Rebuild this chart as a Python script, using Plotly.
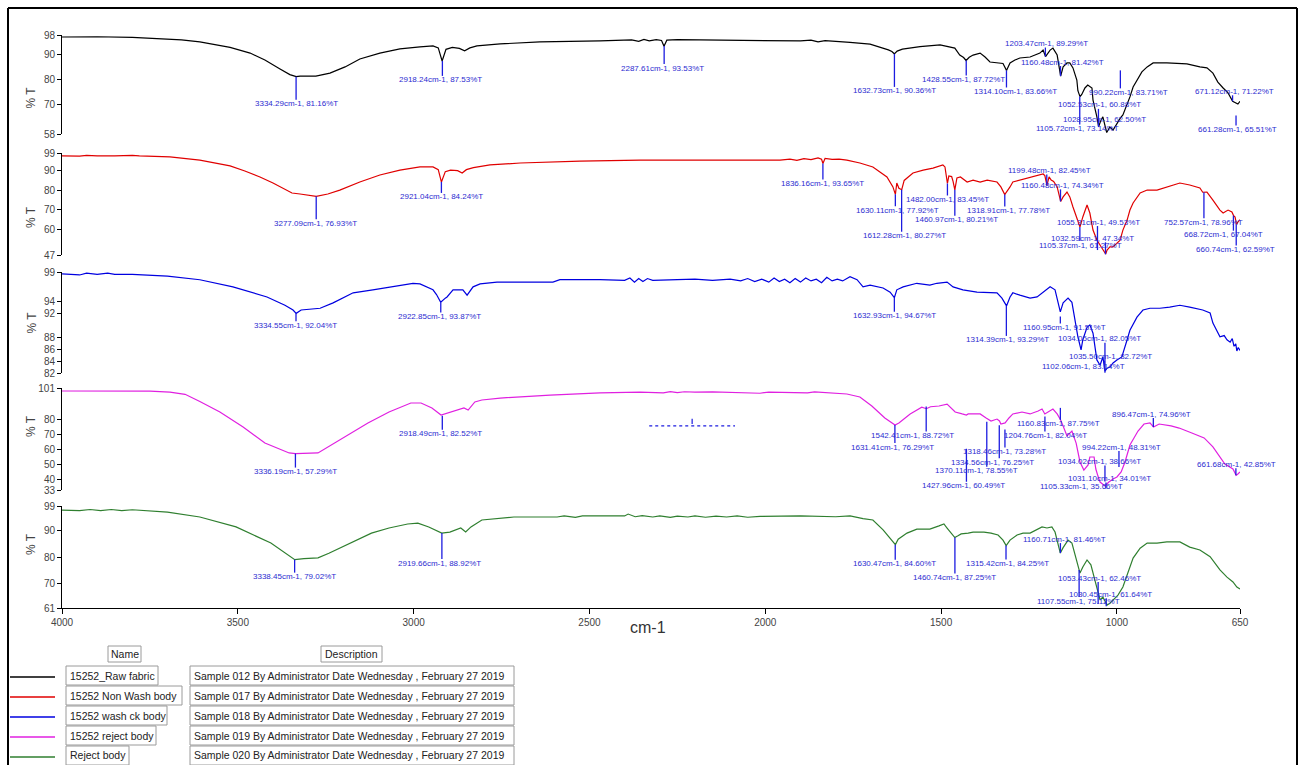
import plotly.graph_objects as go

# ---------------- data ----------------
names = ["15252_Raw fabric", "15252 Non Wash body", "15252 wash ck body",
         "15252 reject body", "Reject body"]
descriptions = [
    "Sample 012 By Administrator Date Wednesday , February 27 2019",
    "Sample 017 By Administrator Date Wednesday , February 27 2019",
    "Sample 018 By Administrator Date Wednesday , February 27 2019",
    "Sample 019 By Administrator Date Wednesday , February 27 2019",
    "Sample 020 By Administrator Date Wednesday , February 27 2019",
]
colors = ["#000000", "#e00000", "#0000e0", "#e020e0", "#2f7f2f"]

x_ticks = [4000, 3500, 3000, 2500, 2000, 1500, 1000, 650]
y_ranges = [(58, 98), (47, 99), (82, 99), (33, 101), (61, 99)]
y_ticks = [[98, 90, 80, 70, 58], [99, 90, 80, 70, 60, 47],
           [99, 94, 92, 88, 86, 84, 82], [101, 80, 70, 60, 50, 40, 33],
           [99, 90, 80, 70, 61]]

# 15252_Raw fabric
wn_raw = [4000, 3900, 3800, 3720, 3660, 3608, 3550, 3522, 3465, 3423, 3380, 3352, 3334, 3323, 3278,
          3238, 3195, 3153, 3096, 3039, 2982, 2945, 2930, 2919, 2908, 2890, 2870, 2855, 2840, 2820,
          2754, 2641, 2470, 2380, 2360, 2345, 2330, 2310, 2295, 2288, 2280, 2250, 2186, 2015, 1900,
          1870, 1850, 1830, 1800, 1759, 1702, 1674, 1650, 1640, 1633, 1625, 1610, 1560, 1503, 1461,
          1447, 1436, 1429, 1420, 1409, 1389, 1375, 1361, 1333, 1324, 1314, 1304, 1290, 1276, 1247,
          1219, 1210, 1203, 1190, 1182, 1170, 1160, 1153, 1142, 1134, 1125, 1114, 1111, 1105, 1100,
          1091, 1083, 1071, 1068, 1057, 1052, 1045, 1040, 1029, 1020, 1011, 1000, 990, 983, 971,
          963, 954, 943, 929, 914, 897, 858, 801, 764, 744, 727, 713, 698, 684, 671, 664, 656, 650]
t_raw = [97.2, 97.3, 97.0, 96.5, 96.0, 95.2, 93.8, 93.0, 90.7, 87.9, 84.3, 82.0, 81.16, 81.4, 81.4,
         82.6, 85.1, 88.3, 90.7, 92.4, 93.2, 93.6, 92.8, 87.5, 92.2, 93.0, 92.6, 91.6, 92.8, 93.6,
         94.4, 95.2, 95.6, 96.0, 95.4, 96.2, 95.6, 96.1, 95.8, 93.5, 95.9, 96.1, 96.0, 95.7, 95.6,
         95.9, 95.2, 95.7, 95.5, 95.0, 94.3, 93.2, 92.0, 91.3, 90.4, 91.5, 92.3, 93.3, 94.0, 92.7,
         89.9, 88.9, 87.7, 89.0, 89.9, 90.7, 89.1, 87.1, 86.7, 86.5, 83.7, 86.7, 87.9, 88.7, 89.1,
         90.7, 91.9, 89.3, 91.9, 92.7, 89.9, 81.4, 85.1, 86.7, 86.7, 84.7, 79.8, 75.5, 73.1, 74.0,
         76.6, 77.8, 76.6, 71.7, 64.9, 61.0, 63.7, 64.9, 58.6, 60.8, 59.6, 62.4, 64.5, 65.7, 69.7,
         73.0, 77.0, 79.8, 83.1, 85.1, 86.7, 86.7, 86.3, 85.1, 84.7, 82.6, 79.0, 76.6, 74.6, 71.2,
         70.6, 70.1, 71.2]

# 15252 Non Wash body
wn_nonwash = [4000, 3950, 3930, 3900, 3850, 3800, 3780, 3693, 3608, 3550, 3522, 3480, 3437, 3400, 3380,
              3346, 3323, 3300, 3277, 3244, 3210, 3153, 3096, 3039, 2982, 2945, 2930, 2921, 2910, 2895,
              2875, 2862, 2850, 2830, 2783, 2697, 2527, 2356, 2186, 2015, 1958, 1930, 1910, 1890, 1870,
              1850, 1840, 1836, 1830, 1810, 1790, 1768, 1731, 1694, 1654, 1637, 1630, 1626, 1620, 1612,
              1605, 1580, 1551, 1523, 1495, 1489, 1482, 1478, 1470, 1466, 1461, 1455, 1445, 1426, 1409,
              1389, 1369, 1341, 1330, 1319, 1310, 1304, 1296, 1276, 1247, 1219, 1210, 1205, 1199, 1193,
              1187, 1180, 1170, 1160, 1153, 1142, 1134, 1125, 1114, 1105, 1097, 1085, 1077, 1068, 1057,
              1048, 1040, 1032, 1028, 1020, 1011, 1000, 991, 983, 971, 963, 954, 934, 914, 886,
              858, 821, 793, 764, 756, 744, 727, 707, 698, 684, 673, 668, 664, 660, 656, 650]
t_nonwash = [97.5, 97.4, 97.8, 97.5, 97.5, 97.8, 97.5, 97.0, 95.4, 93.6, 92.4, 89.8, 86.8, 83.7, 81.7,
             78.6, 78.1, 77.6, 76.9, 78.1, 80.1, 84.2, 87.8, 90.3, 91.9, 91.9, 90.5, 84.2, 89.5, 90.3,
             90.0, 88.8, 90.5, 91.5, 92.9, 93.9, 94.9, 95.4, 95.4, 95.5, 95.4, 95.9, 95.2, 96.1, 95.6,
             96.5, 95.8, 93.65, 96.3, 95.8, 95.9, 95.4, 93.9, 91.9, 86.8, 81.7, 77.9, 83.7, 81.0, 80.3,
             85.0, 88.8, 90.3, 91.3, 92.9, 91.9, 83.45, 87.3, 87.0, 84.5, 80.2, 86.3, 86.8, 84.2, 85.2,
             84.2, 85.2, 84.2, 81.7, 77.8, 80.0, 81.7, 84.2, 85.2, 86.3, 87.8, 88.3, 87.5, 82.45, 86.8,
             85.2, 84.5, 81.7, 74.3, 76.6, 79.1, 76.6, 71.5, 66.4, 61.3, 66.4, 72.5, 68.4, 59.7, 54.6,
             52.1, 49.5, 47.5, 49.5, 51.1, 51.1, 53.1, 54.6, 59.7, 64.8, 69.9, 73.5, 78.6, 80.1, 80.1,
             81.7, 83.7, 82.7, 81.2, 79.0, 79.1, 75.0, 69.9, 68.4, 69.9, 68.9, 67.0, 66.4, 62.6, 63.8,
             65.0]

# 15252 wash ck body
wn_wash = [4000, 3950, 3930, 3900, 3870, 3850, 3800, 3750, 3700, 3608, 3514, 3417, 3366, 3343, 3334,
           3320, 3266, 3229, 3172, 3116, 3059, 3002, 2982, 2945, 2935, 2923, 2910, 2905, 2888, 2860,
           2848, 2831, 2811, 2763, 2604, 2584, 2470, 2400, 2385, 2372, 2360, 2348, 2335, 2320, 2250,
           2200, 2150, 2100, 2070, 2050, 2030, 2010, 1990, 1975, 1960, 1945, 1930, 1915, 1900, 1885,
           1870, 1855, 1840, 1825, 1810, 1795, 1780, 1765, 1759, 1739, 1722, 1702, 1682, 1665, 1645,
           1633, 1626, 1608, 1569, 1532, 1512, 1483, 1466, 1438, 1398, 1370, 1341, 1327, 1314, 1304,
           1296, 1276, 1247, 1227, 1210, 1190, 1176, 1161, 1153, 1139, 1128, 1119, 1111, 1102, 1097,
           1085, 1077, 1068, 1057, 1048, 1040, 1034, 1028, 1020, 1011, 1000, 986, 971, 963, 943,
           926, 906, 878, 850, 821, 793, 756, 735, 727, 707, 695, 687, 678, 672, 667, 662, 659, 655, 650]
t_wash = [98.7, 98.5, 98.8, 98.6, 98.8, 98.6, 98.6, 98.5, 98.3, 97.7, 96.5, 94.8, 93.4, 92.6, 92.04,
          92.6, 92.9, 93.8, 95.5, 96.0, 96.5, 97.1, 97.0, 96.0, 95.2, 93.9, 94.6, 94.8, 96.0, 96.0,
          95.1, 96.5, 97.0, 97.3, 97.3, 97.7, 97.7, 97.6, 98.0, 97.3, 97.9, 97.4, 97.9, 97.6, 97.7,
          97.8, 97.6, 97.8, 97.5, 97.9, 97.4, 97.8, 97.3, 98.0, 97.4, 97.8, 97.2, 97.9, 97.3, 98.0,
          97.5, 97.8, 97.2, 98.1, 97.5, 97.8, 97.5, 98.0, 98.2, 97.7, 96.5, 96.8, 96.5, 96.3, 95.6,
          94.67, 96.0, 96.5, 97.1, 96.8, 97.1, 97.3, 96.5, 96.0, 95.6, 95.5, 95.5, 94.6, 93.29, 94.8,
          95.5, 95.1, 94.6, 94.8, 95.6, 96.5, 96.0, 92.3, 93.8, 94.6, 93.9, 90.9, 88.1, 85.9, 87.6,
          89.7, 90.1, 88.7, 84.2, 83.3, 84.7, 82.3, 82.8, 83.0, 83.7, 84.2, 84.7, 87.6, 89.2, 91.4,
          92.6, 92.9, 92.9, 93.1, 93.4, 93.1, 92.6, 92.1, 90.4, 88.1, 88.3, 87.6, 87.2, 87.8, 86.5,
          86.9, 85.7, 86.3, 85.8]

# 15252 reject body
wn_reject = [4000, 3900, 3800, 3750, 3693, 3650, 3608, 3551, 3485, 3423, 3354, 3336, 3272, 3258, 3201,
             3130, 3070, 3008, 2979, 2948, 2922, 2897, 2857, 2845, 2826, 2806, 2754, 2612, 2470, 2356,
             2290, 2270, 2250, 2230, 2200, 2150, 2100, 2040, 2015, 1990, 1900, 1880, 1860, 1850, 1768,
             1731, 1697, 1660, 1637, 1631, 1620, 1588, 1555, 1542, 1530, 1506, 1483, 1460, 1440, 1428,
             1423, 1389, 1372, 1358, 1341, 1334, 1330, 1318, 1307, 1296, 1270, 1247, 1224, 1213, 1205,
             1193, 1182, 1170, 1160, 1153, 1142, 1128, 1116, 1105, 1094, 1082, 1077, 1065, 1060, 1054,
             1048, 1034, 1023, 1011, 1000, 988, 977, 963, 940, 923, 906, 896, 880, 846, 823,
             787, 752, 727, 710, 693, 670, 661, 656, 650]
t_reject = [99.0, 99.0, 98.9, 98.9, 98.3, 96.8, 92.0, 85.0, 75.0, 64.3, 57.7, 57.29, 57.7, 59.7, 67.7,
            77.7, 85.0, 91.0, 91.0, 87.7, 83.0, 85.0, 87.7, 86.3, 91.7, 93.0, 94.3, 96.3, 97.7, 98.3,
            97.8, 98.6, 97.9, 98.5, 98.2, 98.4, 98.2, 98.0, 97.5, 98.3, 98.3, 97.8, 98.4, 98.3, 97.0,
            95.0, 89.0, 81.0, 77.0, 76.29, 77.7, 83.7, 88.2, 87.2, 88.5, 89.0, 90.3, 85.0, 83.7, 83.0,
            83.7, 83.7, 81.0, 79.0, 80.3, 79.0, 77.0, 77.7, 81.0, 83.7, 85.0, 83.7, 85.7, 87.0, 83.7,
            85.7, 87.0, 83.7, 79.7, 75.7, 69.0, 72.3, 64.3, 51.7, 46.3, 49.7, 55.0, 55.0, 47.0, 42.3,
            38.3, 35.7, 38.3, 40.3, 41.7, 45.0, 51.7, 63.0, 72.3, 77.0, 77.7, 75.0, 77.0, 75.7, 74.3,
            71.0, 67.7, 61.7, 56.3, 50.3, 47.0, 42.85, 43.7, 45.0]

# Reject body
wn_rejbody = [4000, 3950, 3920, 3890, 3860, 3830, 3800, 3750, 3700, 3608, 3505, 3406, 3355, 3338, 3312,
              3272, 3241, 3180, 3120, 3070, 3017, 2988, 2957, 2920, 2897, 2866, 2852, 2837, 2806, 2715,
              2592, 2572, 2540, 2520, 2400, 2390, 2370, 2350, 2320, 2300, 2270, 2250, 2220, 2200, 2170,
              2140, 2110, 2080, 2050, 2015, 1900, 1800, 1759, 1722, 1694, 1665, 1640, 1630, 1622, 1597,
              1569, 1532, 1506, 1492, 1483, 1470, 1461, 1452, 1443, 1423, 1409, 1378, 1358, 1338, 1324,
              1315, 1304, 1284, 1267, 1247, 1227, 1213, 1199, 1185, 1176, 1161, 1153, 1139, 1128, 1114,
              1105, 1097, 1085, 1074, 1065, 1057, 1048, 1040, 1028, 1020, 1011, 997, 983, 969, 954,
              934, 914, 886, 858, 821, 793, 764, 735, 707, 687, 670, 659, 650]
t_rejbody = [97.5, 97.3, 97.7, 97.3, 97.7, 97.3, 97.6, 97.2, 96.7, 94.9, 91.2, 85.2, 80.8, 79.02, 79.4,
             79.7, 81.4, 85.2, 88.9, 90.8, 92.3, 92.6, 91.2, 88.92, 89.3, 90.8, 89.3, 91.2, 93.8, 94.9,
             94.9, 95.3, 94.8, 95.3, 95.3, 96.0, 95.0, 95.4, 94.9, 95.3, 94.8, 95.2, 94.9, 95.3, 94.8,
             95.2, 94.9, 95.3, 94.8, 95.1, 95.3, 95.0, 95.3, 94.3, 93.8, 90.1, 86.3, 84.6, 86.6, 88.9,
             90.4, 90.4, 91.6, 92.3, 90.8, 88.8, 87.25, 87.9, 88.6, 88.9, 89.3, 89.3, 88.9, 88.2, 86.3,
             84.25, 86.3, 88.2, 88.9, 88.9, 90.1, 91.2, 90.8, 91.2, 89.3, 81.46, 83.5, 86.3, 85.2, 77.8,
             74.0, 76.3, 78.9, 77.1, 72.5, 67.6, 64.0, 65.1, 62.1, 62.8, 64.0, 65.8, 68.8, 74.0, 79.6,
             83.3, 85.2, 85.2, 85.6, 85.6, 83.7, 82.6, 80.1, 75.2, 72.5, 70.7, 68.8, 68.1]

# picked peaks (wavenumber, %T) per spectrum
pk_raw_wn = [3334.29, 2918.24, 2287.61, 1632.73, 1428.55, 1314.10, 1203.47, 1160.48, 990.22,
             1052.53, 1028.95, 1105.72, 671.12, 661.28]
pk_raw_t = [81.16, 87.53, 93.53, 90.36, 87.72, 83.66, 89.29, 81.42, 83.71, 60.88, 62.50, 73.14,
            71.22, 65.51]
pk_nonwash_wn = [3277.09, 2921.04, 1836.16, 1630.11, 1612.28, 1482.00, 1460.97, 1318.91, 1199.48,
                 1160.48, 1055.31, 1032.59, 1105.37, 752.57, 668.72, 660.74]
pk_nonwash_t = [76.93, 84.24, 93.65, 77.92, 80.27, 83.45, 80.21, 77.78, 82.45, 74.34, 49.53, 47.34,
                61.27, 78.96, 67.04, 62.59]
pk_wash_wn = [3334.55, 2922.85, 1632.93, 1314.39, 1160.95, 1034.05, 1035.50, 1102.06]
pk_wash_t = [92.04, 93.87, 94.67, 93.29, 91.51, 82.05, 82.72, 83.14]
pk_reject_wn = [3336.19, 2918.49, 1631.41, 1542.41, 1427.96, 1370.11, 1334.56, 1318.46, 1204.76,
                1160.83, 994.22, 1034.02, 1031.10, 1105.33, 896.47, 661.68]
pk_reject_t = [57.29, 82.52, 76.29, 88.72, 60.49, 78.55, 76.25, 73.28, 82.04, 87.75, 48.31, 38.66,
               34.01, 35.66, 74.96, 42.85]
pk_rejbody_wn = [3338.45, 2919.66, 1630.47, 1460.74, 1315.42, 1160.71, 1053.43, 1030.45, 1107.55]
pk_rejbody_t = [79.02, 88.92, 84.60, 87.25, 84.25, 81.46, 62.46, 61.64, 75.12]

# ---------------- styles / layout ----------------
# label offsets (dx, dy) in pixels of each peak label relative to its peak
lab_raw = [(0, 27), (-2, 19), (-2, 22), (0, 37), (-3, 19), (9, 21), (1, -13), (2, -14), (8, 22),
           (1, -22), (-2, -3), (-2, 32), (2, -10), (1, 14)]
lab_nonwash = [(-1, 27), (0, 15), (0, 20), (2, 16), (3, 46), (0, 16), (2, 30), (4, 16), (3, -15),
               (2, -16), (1, -28), (-13, -16), (1, 18), (0, 30), (-10, 19), (-1, 25)]
lab_wash = [(-1, 12), (-1, 14), (0, 18), (1, 34), (4, 11), (-5, -34), (6, -12), (2, 0)]
lab_reject = [(0, 18), (-2, 18), (-2, 22), (-14, 29), (-3, 37), (-10, 49), (-7, 37), (0, 22),
              (1, 19), (-2, 16), (3, -20), (-5, -20), (4, -10), (2, 0), (-2, -13), (1, -11)]
lab_rejbody = [(0, 17), (-2, 30), (-1, 19), (0, 40), (1, 18), (4, -14), (1, -26), (4, -12), (-1, 31)]

spectra = [(wn_raw, t_raw), (wn_nonwash, t_nonwash), (wn_wash, t_wash),
           (wn_reject, t_reject), (wn_rejbody, t_rejbody)]
peaks = [(pk_raw_wn, pk_raw_t, lab_raw), (pk_nonwash_wn, pk_nonwash_t, lab_nonwash),
         (pk_wash_wn, pk_wash_t, lab_wash), (pk_reject_wn, pk_reject_t, lab_reject),
         (pk_rejbody_wn, pk_rejbody_t, lab_rejbody)]

W, H = 1300, 765
L, R, T, B = 62, 1240, 35, 608
panel_px = [(35, 134), (153, 255), (272, 373), (388, 490), (506, 608)]
FONT = "Liberation Sans, Arial, sans-serif"
LBL = "#2b2bd0"
TICKC = "#1c1ce0"


def px(x, y):
    return (x - L) / (R - L), (B - y) / (B - T)


fig = go.Figure()
layout = dict(
    width=W, height=H, margin=dict(l=L, r=W - R, t=T, b=H - B),
    paper_bgcolor="white", plot_bgcolor="white", showlegend=False,
    font=dict(family=FONT, color="#333333"),
    xaxis=dict(range=[4000, 650], anchor="y5", showline=True, linecolor="black", linewidth=1,
               ticks="outside", ticklen=5, tickcolor="black", tickvals=x_ticks,
               ticktext=[str(v) for v in x_ticks], showgrid=False, zeroline=False,
               tickfont=dict(size=10, color="#444444", family=FONT)),
)
shapes = []
annotations = []

for i, ((wn, tv), (pw, pt, lab), (top, bot)) in enumerate(zip(spectra, peaks, panel_px)):
    k = i + 1
    yname = "yaxis" if k == 1 else f"yaxis{k}"
    yref = "y" if k == 1 else f"y{k}"
    layout[yname] = dict(
        domain=[(B - bot) / (B - T), (B - top) / (B - T)], range=list(y_ranges[i]), anchor="x",
        showline=True, linecolor="black", linewidth=1, ticks="outside", ticklen=4,
        tickcolor="black", tickvals=y_ticks[i], showgrid=False, zeroline=False,
        tickfont=dict(size=10, color="#444444", family=FONT))
    fig.add_trace(go.Scatter(x=wn, y=tv, mode="lines", xaxis="x", yaxis=yref,
                             line=dict(color=colors[i], width=1.2), name=names[i],
                             hoverinfo="skip"))
    # peak ticks and labels
    for w, t, (dx, dy) in zip(pw, pt, lab):
        txt = f"{w:.2f}cm-1, {t:.2f}%T"
        if abs(dy) > 5:
            ln = abs(dy) - 4
            shapes.append(dict(type="line", xref="x", yref=yref, ysizemode="pixel", yanchor=t,
                               x0=w, x1=w, y0=0, y1=(-ln if dy > 0 else ln),
                               line=dict(color=TICKC, width=1.3)))
        annotations.append(dict(x=w, y=t, xref="x", yref=yref, text=txt, showarrow=False,
                                xshift=dx, yshift=-dy, xanchor="center", yanchor="middle",
                                font=dict(size=8, color=LBL, family=FONT)))
    # "% T" axis titles
    cx, cy = px(22, (top + bot) / 2)
    annotations.append(dict(x=cx, y=cy, xref="paper", yref="paper", text="% T", textangle=-90,
                            showarrow=False, font=dict(size=12, color="#444444", family=FONT)))

# garbled dotted label in the reject-body panel
shapes.append(dict(type="line", xref="x", yref="y4", x0=2330, x1=2086, y0=75.7, y1=75.7,
                   line=dict(color=TICKC, width=1.2, dash="dot")))
shapes.append(dict(type="line", xref="x", yref="y4", x0=2208, x1=2208, y0=80.5, y1=77.0,
                   line=dict(color=TICKC, width=1.2)))

# x axis title
cx, cy = px(648, 638)
annotations.append(dict(x=cx, y=cy, xref="paper", yref="paper", text="cm-1", showarrow=False,
                        font=dict(size=16, color="#333333", family=FONT)))

# outer frame
for (x0, y0, x1, y1) in [(8, 8, 8, 765), (8, 8, 1297, 8), (1297, 8, 1297, 765)]:
    a, b = px(x0, y0)
    c, d = px(x1, y1)
    shapes.append(dict(type="line", xref="paper", yref="paper", x0=a, y0=b, x1=c, y1=d,
                       line=dict(color="black", width=2)))

# legend table
BOX = "#9a9a9a"


def box(x0, y0, x1, y1):
    a, b = px(x0, y0)
    c, d = px(x1, y1)
    shapes.append(dict(type="rect", xref="paper", yref="paper", x0=a, y0=b, x1=c, y1=d,
                       line=dict(color=BOX, width=1), fillcolor="white", layer="below"))


def text(x, y, s, anchor="left", size=10.5):
    a, b = px(x, y)
    annotations.append(dict(x=a, y=b, xref="paper", yref="paper", text=s, showarrow=False,
                            xanchor=anchor, yanchor="middle",
                            font=dict(size=size, color="#222222", family=FONT)))


box(108, 646, 141, 662)
text(124.5, 654, "Name", "center")
box(321, 646, 382, 662)
text(351.5, 654, "Description", "center")
row_top = [666, 686, 706, 726, 746]
name_w = [158, 182, 167, 156, 129]
for i in range(5):
    y0 = row_top[i]
    box(66, y0, name_w[i], y0 + 19)
    text(68, y0 + 9.5, names[i])
    box(190, y0, 514, y0 + 19)
    text(192, y0 + 9.5, descriptions[i])
    a, b = px(10, y0 + 11)
    c, _ = px(55, y0 + 11)
    shapes.append(dict(type="line", xref="paper", yref="paper", x0=a, y0=b, x1=c, y1=b,
                       line=dict(color=colors[i], width=1.5)))

layout["shapes"] = shapes
layout["annotations"] = annotations
fig.update_layout(**layout)
fig.write_html("out.html", config={"displayModeBar": False},
               post_script="document.body.style.margin='0px';document.body.style.overflow='hidden';")
